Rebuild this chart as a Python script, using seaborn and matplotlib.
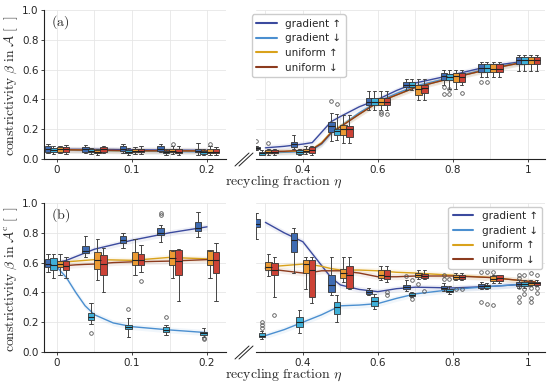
import numpy as np
import pandas as pd
import seaborn as sns
import matplotlib.pyplot as plt
from matplotlib.lines import Line2D

sns.set_theme(style="whitegrid")
plt.rcParams['font.family'] = ['DejaVu Sans']
plt.rcParams['mathtext.fontset'] = 'cm'

series = ['gradient ↑', 'gradient ↓', 'uniform ↑', 'uniform ↓']
line_colors = ['#3b4a9e', '#4b8fd0', '#d9a21b', '#8c3b1e']
box_colors = ['#3f6cb3', '#3fb0d8', '#eb9a33', '#cc4236']

# group positions: 5 on the left part, 8 on the right part of the broken axis
groups = [0, 0.05, 0.1, 0.15, 0.2, 0.3, 0.4, 0.5, 0.6, 0.7, 0.8, 0.9, 1.0]

# panel (a) box statistics, one row per series
a_med = [[0.065, 0.065, 0.07, 0.07, 0.055, 0.072, 0.1, 0.22, 0.385, 0.5, 0.555, 0.61, 0.665],
         [0.06, 0.055, 0.05, 0.045, 0.045, 0.04, 0.045, 0.185, 0.385, 0.5, 0.55, 0.61, 0.665],
         [0.065, 0.05, 0.055, 0.055, 0.05, 0.05, 0.055, 0.2, 0.385, 0.47, 0.555, 0.605, 0.665],
         [0.065, 0.065, 0.055, 0.05, 0.05, 0.05, 0.06, 0.2, 0.385, 0.475, 0.55, 0.605, 0.665]]
a_q1 = [[0.05, 0.05, 0.055, 0.055, 0.045, 0.065, 0.083, 0.183, 0.362, 0.48, 0.53, 0.585, 0.64],
        [0.045, 0.045, 0.04, 0.04, 0.035, 0.03, 0.034, 0.16, 0.362, 0.48, 0.53, 0.585, 0.64],
        [0.05, 0.04, 0.045, 0.045, 0.04, 0.04, 0.045, 0.16, 0.36, 0.43, 0.52, 0.585, 0.64],
        [0.05, 0.05, 0.045, 0.04, 0.04, 0.04, 0.04, 0.15, 0.36, 0.44, 0.52, 0.585, 0.64]]
a_q3 = [[0.085, 0.08, 0.09, 0.09, 0.07, 0.08, 0.116, 0.25, 0.407, 0.52, 0.575, 0.64, 0.687],
        [0.075, 0.065, 0.06, 0.055, 0.055, 0.05, 0.06, 0.2, 0.407, 0.52, 0.57, 0.635, 0.687],
        [0.08, 0.06, 0.065, 0.065, 0.065, 0.06, 0.07, 0.23, 0.407, 0.497, 0.58, 0.64, 0.687],
        [0.08, 0.08, 0.065, 0.065, 0.065, 0.06, 0.08, 0.22, 0.407, 0.5, 0.575, 0.64, 0.687]]
a_lo = [[0.04, 0.04, 0.04, 0.045, 0.03, 0.06, 0.07, 0.12, 0.33, 0.46, 0.5, 0.55, 0.59],
        [0.035, 0.035, 0.03, 0.03, 0.025, 0.025, 0.025, 0.127, 0.33, 0.46, 0.47, 0.55, 0.59],
        [0.04, 0.03, 0.035, 0.035, 0.03, 0.03, 0.035, 0.11, 0.33, 0.396, 0.47, 0.55, 0.59],
        [0.035, 0.04, 0.035, 0.03, 0.03, 0.03, 0.03, 0.11, 0.33, 0.396, 0.5, 0.55, 0.59]]
a_hi = [[0.1, 0.095, 0.1, 0.1, 0.11, 0.085, 0.16, 0.308, 0.458, 0.537, 0.6, 0.65, 0.698],
        [0.09, 0.075, 0.075, 0.07, 0.065, 0.06, 0.065, 0.3, 0.458, 0.537, 0.6, 0.65, 0.698],
        [0.09, 0.07, 0.08, 0.09, 0.085, 0.07, 0.09, 0.295, 0.458, 0.537, 0.6, 0.65, 0.698],
        [0.095, 0.09, 0.09, 0.085, 0.08, 0.07, 0.09, 0.295, 0.458, 0.537, 0.6, 0.65, 0.698]]
a_fliers = [(2, 0.15, [0.1]), (2, 0.2, [0.1]), (0, 0.3, [0.12]), (2, 0.3, [0.11]),
            (0, 0.5, [0.39]), (1, 0.5, [0.37]), (2, 0.6, [0.3, 0.315]), (3, 0.6, [0.3]),
            (0, 0.8, [0.48, 0.436]), (1, 0.8, [0.47, 0.436]), (3, 0.8, [0.445]),
            (0, 0.9, [0.52]), (1, 0.9, [0.52])]

# panel (b) box statistics
b_med = [[0.59, 0.68, 0.75, 0.8, 0.83, 0.86, 0.75, 0.45, 0.4, 0.435, 0.43, 0.44, 0.455],
         [0.585, 0.235, 0.165, 0.15, 0.13, 0.11, 0.2, 0.3, 0.34, 0.385, 0.41, 0.44, 0.455],
         [0.59, 0.62, 0.62, 0.63, 0.62, 0.57, 0.59, 0.53, 0.52, 0.515, 0.505, 0.49, 0.46],
         [0.575, 0.59, 0.62, 0.61, 0.62, 0.55, 0.55, 0.52, 0.51, 0.51, 0.505, 0.5, 0.46]]
b_q1 = [[0.568, 0.664, 0.73, 0.785, 0.81, 0.84, 0.67, 0.405, 0.39, 0.42, 0.42, 0.43, 0.44],
        [0.55, 0.215, 0.152, 0.136, 0.114, 0.1, 0.17, 0.255, 0.31, 0.375, 0.4, 0.43, 0.44],
        [0.57, 0.56, 0.584, 0.584, 0.584, 0.55, 0.53, 0.495, 0.5, 0.505, 0.49, 0.475, 0.45],
        [0.55, 0.517, 0.584, 0.52, 0.53, 0.52, 0.37, 0.43, 0.49, 0.5, 0.49, 0.475, 0.45]]
b_q3 = [[0.622, 0.71, 0.778, 0.83, 0.875, 0.89, 0.8, 0.52, 0.415, 0.45, 0.44, 0.455, 0.47],
        [0.63, 0.264, 0.18, 0.17, 0.136, 0.125, 0.235, 0.335, 0.37, 0.395, 0.425, 0.45, 0.47],
        [0.61, 0.673, 0.673, 0.685, 0.685, 0.605, 0.617, 0.56, 0.55, 0.528, 0.52, 0.51, 0.47],
        [0.61, 0.65, 0.66, 0.685, 0.673, 0.6, 0.62, 0.575, 0.55, 0.525, 0.52, 0.515, 0.47]]
b_lo = [[0.54, 0.64, 0.7, 0.74, 0.775, 0.76, 0.53, 0.38, 0.38, 0.41, 0.41, 0.42, 0.43],
        [0.5, 0.19, 0.1, 0.115, 0.1, 0.09, 0.13, 0.2, 0.29, 0.37, 0.39, 0.42, 0.43],
        [0.52, 0.483, 0.52, 0.5, 0.5, 0.51, 0.42, 0.47, 0.48, 0.49, 0.48, 0.46, 0.44],
        [0.5, 0.405, 0.54, 0.34, 0.34, 0.37, 0.33, 0.42, 0.47, 0.49, 0.48, 0.46, 0.44]]
b_hi = [[0.66, 0.778, 0.8, 0.855, 0.94, 0.935, 0.83, 0.64, 0.43, 0.48, 0.46, 0.47, 0.48],
        [0.66, 0.33, 0.228, 0.18, 0.16, 0.14, 0.28, 0.38, 0.39, 0.4, 0.44, 0.46, 0.48],
        [0.66, 0.758, 0.758, 0.68, 0.68, 0.66, 0.64, 0.64, 0.58, 0.55, 0.53, 0.52, 0.48],
        [0.64, 0.7, 0.72, 0.69, 0.73, 0.64, 0.64, 0.64, 0.58, 0.55, 0.53, 0.52, 0.48]]
b_fliers = [(1, 0.05, [0.13]), (1, 0.1, [0.29]), (3, 0.1, [0.476]), (0, 0.15, [0.92, 0.93]),
            (1, 0.15, [0.237]), (1, 0.2, [0.09, 0.095]), (1, 0.3, [0.16, 0.18, 0.2]),
            (3, 0.3, [0.25]), (3, 0.6, [0.4, 0.38]), (0, 0.7, [0.51]), (1, 0.7, [0.483, 0.356]),
            (2, 0.7, [0.454]), (3, 0.7, [0.41]), (0, 0.8, [0.517, 0.49]), (1, 0.8, [0.49]),
            (2, 0.8, [0.425]), (3, 0.8, [0.42]), (0, 0.9, [0.54, 0.337]), (1, 0.9, [0.54, 0.32]),
            (2, 0.9, [0.54, 0.315]), (0, 1.0, [0.517, 0.5, 0.438, 0.371, 0.338]),
            (1, 1.0, [0.517, 0.42, 0.387]), (2, 1.0, [0.528, 0.43, 0.36, 0.338]),
            (3, 1.0, [0.517, 0.43, 0.394])]

# fitted curves
line_x_left = [0, 0.0125, 0.025, 0.0375, 0.05, 0.075, 0.1, 0.15, 0.2]
line_x_right = [0.3, 0.35, 0.4, 0.425, 0.45, 0.475, 0.5, 0.55, 0.6, 0.65, 0.7, 0.8, 0.9, 1.02]
a_line_left = [[0.065, 0.065, 0.065, 0.065, 0.065, 0.064, 0.062, 0.06, 0.058],
               [0.06, 0.06, 0.058, 0.057, 0.056, 0.055, 0.053, 0.05, 0.048],
               [0.063, 0.062, 0.061, 0.06, 0.058, 0.056, 0.055, 0.055, 0.054],
               [0.062, 0.062, 0.061, 0.06, 0.06, 0.058, 0.056, 0.055, 0.054]]
a_line_right = [[0.075, 0.085, 0.1, 0.11, 0.18, 0.25, 0.285, 0.35, 0.4, 0.46, 0.51, 0.565, 0.625, 0.665],
                [0.04, 0.045, 0.05, 0.06, 0.1, 0.17, 0.22, 0.31, 0.385, 0.44, 0.49, 0.55, 0.61, 0.665],
                [0.05, 0.05, 0.055, 0.065, 0.11, 0.18, 0.22, 0.3, 0.38, 0.43, 0.48, 0.545, 0.605, 0.665],
                [0.05, 0.052, 0.058, 0.066, 0.105, 0.175, 0.215, 0.3, 0.38, 0.43, 0.48, 0.545, 0.605, 0.665]]
b_line_left = [[0.6, 0.615, 0.64, 0.665, 0.69, 0.72, 0.75, 0.8, 0.84],
               [0.57, 0.5, 0.4, 0.31, 0.25, 0.195, 0.17, 0.148, 0.13],
               [0.6, 0.605, 0.61, 0.615, 0.62, 0.618, 0.615, 0.635, 0.625],
               [0.575, 0.58, 0.585, 0.588, 0.59, 0.6, 0.605, 0.61, 0.62]]
b_line_right = [[0.87, 0.8, 0.74, 0.66, 0.58, 0.5, 0.45, 0.42, 0.405, 0.425, 0.435, 0.43, 0.44, 0.46],
                [0.11, 0.15, 0.2, 0.225, 0.25, 0.28, 0.31, 0.315, 0.325, 0.36, 0.39, 0.42, 0.44, 0.46],
                [0.57, 0.58, 0.59, 0.585, 0.575, 0.56, 0.55, 0.55, 0.545, 0.535, 0.53, 0.515, 0.5, 0.47],
                [0.56, 0.545, 0.53, 0.535, 0.545, 0.545, 0.545, 0.53, 0.505, 0.505, 0.51, 0.51, 0.5, 0.47]]

offsets_px = [-9, -3.5, 3, 9]
box_px = 6.5
W, H = 550, 382


def draw_part(ax, sel, px_per_unit, med, q1, q3, lo, hi, fliers, lx, ly):
    # curves with a faint band
    rows = []
    for s in range(4):
        ax.fill_between(lx, np.array(ly[s]) - 0.02, np.array(ly[s]) + 0.02,
                        color=line_colors[s], alpha=0.08, lw=0, zorder=1)
        for x, y in zip(lx, ly[s]):
            rows.append({'x': x, 'y': y, 'series': series[s]})
    df = pd.DataFrame(rows)
    sns.lineplot(data=df, x='x', y='y', hue='series', hue_order=series, palette=line_colors,
                 sort=False, estimator=None, lw=1.0, legend=False, ax=ax, zorder=2)
    for s in range(4):
        stats, pos = [], []
        for i in sel:
            fl = [v for (k, g, vals) in fliers if k == s and g == groups[i] for v in vals]
            stats.append({'med': med[s][i], 'q1': q1[s][i], 'q3': q3[s][i],
                          'whislo': lo[s][i], 'whishi': hi[s][i], 'fliers': fl})
            pos.append(groups[i] + offsets_px[s] / px_per_unit)
        ax.bxp(stats, positions=pos, widths=box_px / px_per_unit, patch_artist=True,
               manage_ticks=False, zorder=3,
               boxprops=dict(facecolor=box_colors[s], edgecolor='#333333', linewidth=0.6),
               medianprops=dict(color='#222222', linewidth=0.8),
               whiskerprops=dict(color='#444444', linewidth=0.7),
               capprops=dict(color='#444444', linewidth=0.7),
               flierprops=dict(marker='o', markersize=2.6, markerfacecolor='none',
                               markeredgecolor='#555555', markeredgewidth=0.6))


def style(ax, left):
    ax.set_ylim(0, 1)
    ax.set_xlabel('')
    ax.set_ylabel('')
    ax.grid(True, which='both', color='#e6e6e6', lw=0.6)
    ax.set_axisbelow(True)
    for sp in ['top', 'right']:
        ax.spines[sp].set_visible(False)
    ax.spines['bottom'].set_color('#222222')
    ax.spines['bottom'].set_linewidth(0.8)
    ax.tick_params(axis='x', which='major', bottom=True, length=2.5, width=0.6, labelsize=7.5, pad=1.5)
    if left:
        ax.set_xlim(-0.0173, 0.2253)
        ax.set_xticks([0, 0.1, 0.2], ['0', '0.1', '0.2'])
        ax.set_xticks([0.05, 0.15], minor=True)
        ax.set_yticks([0, 0.2, 0.4, 0.6, 0.8, 1.0], ['0.0', '0.2', '0.4', '0.6', '0.8', '1.0'])
        ax.spines['left'].set_color('#222222')
        ax.spines['left'].set_linewidth(0.8)
        ax.tick_params(axis='y', left=True, length=2.5, width=0.6, labelsize=7.5, pad=1.5)
    else:
        ax.set_xlim(0.275, 1.0457)
        ax.set_xticks([0.4, 0.6, 0.8, 1.0], ['0.4', '0.6', '0.8', '1'])
        ax.set_xticks([0.3, 0.5, 0.7, 0.9], minor=True)
        ax.set_yticks([0, 0.2, 0.4, 0.6, 0.8, 1.0])
        ax.spines['left'].set_visible(False)
        ax.tick_params(axis='y', left=False, labelleft=False)


fig = plt.figure(figsize=(W / 100, H / 100), dpi=100)

panels = [
    ('a', 159, a_med, a_q1, a_q3, a_lo, a_hi, a_fliers, a_line_left, a_line_right,
     r'$\mathrm{constrictivity}\ \beta\ \mathrm{in}\ \mathcal{A}\ [\ \ ]$'),
    ('b', 352, b_med, b_q1, b_q3, b_lo, b_hi, b_fliers, b_line_left, b_line_right,
     r'$\mathrm{constrictivity}\ \beta\ \mathrm{in}\ \mathcal{A}^\mathrm{c}\ [\ \ ]$'),
]

for tag, ybot, med, q1, q3, lo, hi, fliers, lyl, lyr, ylab in panels:
    axl = fig.add_axes([44 / W, 1 - ybot / H, 182 / W, 149 / H])
    axr = fig.add_axes([256 / W, 1 - ybot / H, 289 / W, 149 / H])
    draw_part(axl, range(0, 5), 750, med, q1, q3, lo, hi, fliers, line_x_left, lyl)
    draw_part(axr, range(5, 13), 375, med, q1, q3, lo, hi, fliers, line_x_right, lyr)
    style(axl, True)
    style(axr, False)
    axl.set_ylabel(ylab, fontsize=9.8)
    axl.yaxis.set_label_coords(-0.13, 0.49)
    axl.text(0.04, 0.92, r'$\mathrm{(%s)}$' % tag, transform=axl.transAxes, fontsize=10,
             va='center', ha='left')
    fig.text(284 / W, 1 - (ybot + 22.5) / H, r'$\mathrm{recycling\ fraction}\ \eta$',
             fontsize=10, ha='center', va='center')
    # break marks on the x axis
    for dx in [0, 4]:
        fig.add_artist(Line2D([(235 + dx) / W, (249 + dx) / W],
                              [1 - (ybot + 7) / H, 1 - (ybot - 6) / H],
                              color='#222222', lw=0.7))
    handles = [Line2D([], [], color=c, lw=1.5) for c in line_colors]
    if tag == 'a':
        axr.legend(handles, series, loc='upper left', bbox_to_anchor=(-0.014, 0.97),
                   fontsize=7.5, frameon=True, framealpha=1, edgecolor='#cccccc',
                   borderaxespad=0, labelspacing=0.45)
    else:
        axr.legend(handles, series, loc='upper right', bbox_to_anchor=(0.99, 0.975),
                   fontsize=7.5, frameon=True, framealpha=1, edgecolor='#cccccc',
                   borderaxespad=0, labelspacing=0.45)

fig.savefig('out.png', dpi=100)
